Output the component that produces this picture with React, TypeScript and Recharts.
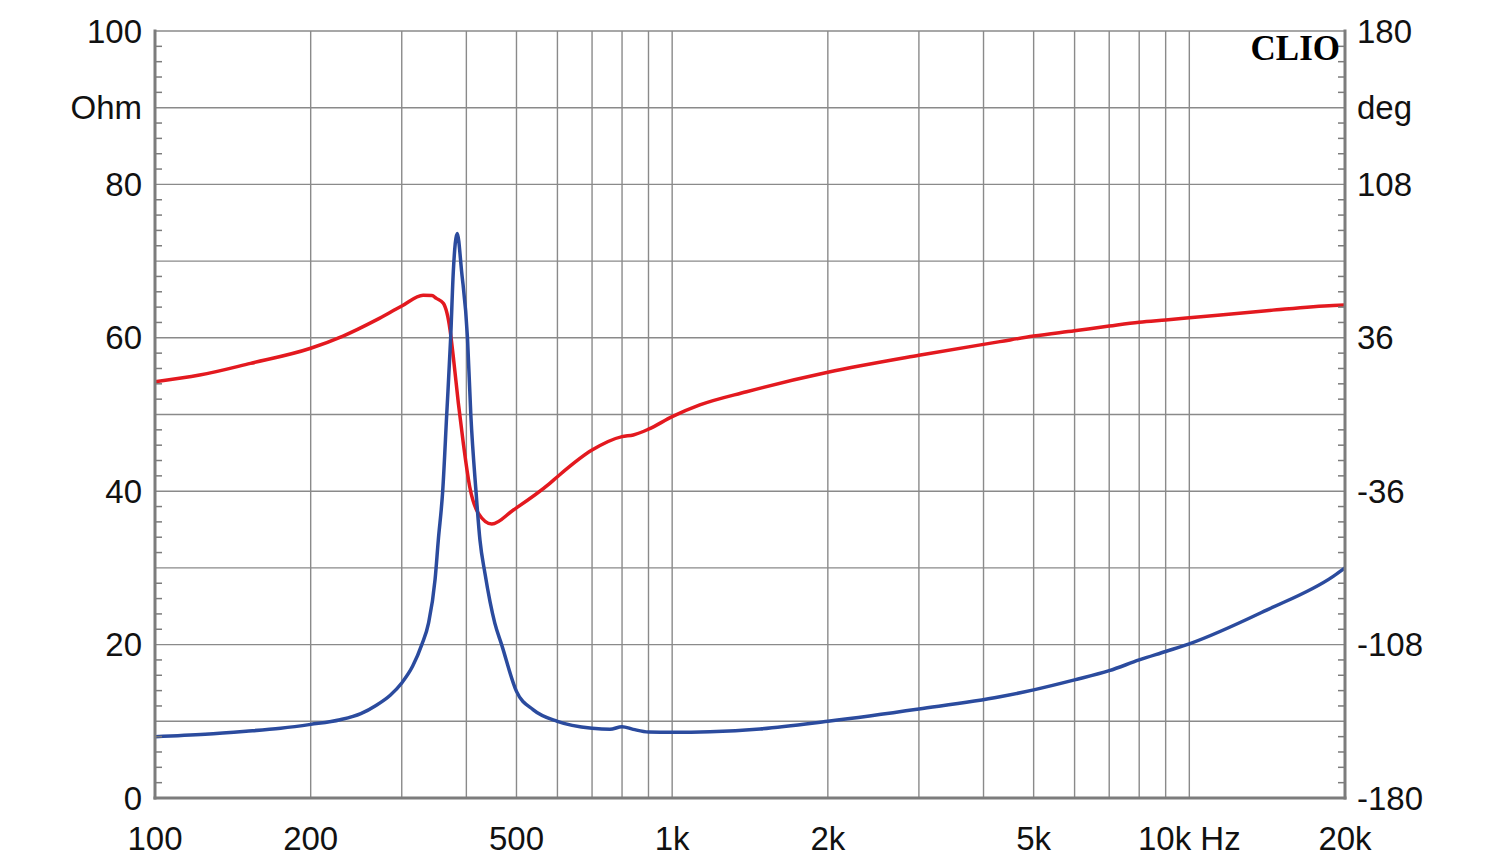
import React from "react";
import { LineChart, Line, XAxis, YAxis, CartesianGrid } from "recharts";

// impedance magnitude (left axis)
const impFreq = [
  100, 125, 150, 175, 200, 228, 250, 268, 285, 300, 315, 328, 338, 348, 353,
  360, 366.5, 373, 377.4, 384, 391.7, 402, 408, 417.5, 425, 434.5, 454, 468,
  500, 539, 600, 700, 758, 800, 841, 900, 1000, 1183, 1478, 2000, 3000, 4303,
  5000, 6000, 7000, 8000, 9000, 10000, 14108, 18977, 20000,
];
const impOhm = [
  8.0, 8.3, 8.7, 9.1, 9.6, 10.2, 11.0, 12.1, 13.4, 15.0, 17.2, 20.0, 22.8,
  28.5, 33.6, 40, 50, 60, 68.6, 73.6, 68.6, 60, 50, 40, 33.6, 29.3, 22.8, 20.0,
  13.9, 11.5, 10.0, 9.1, 8.95, 9.3, 8.95, 8.6, 8.56, 8.64, 9.0, 10.0, 11.6,
  13.2, 14.1, 15.4, 16.6, 18.0, 19.1, 20.1, 24.5, 28.9, 30.0,
];

// phase (right axis)
const phaseFreq = [
  100, 122, 153, 200, 231, 268, 300, 330, 343, 350, 361, 372, 377.4, 386,
  394.6, 406, 422, 448, 493, 580, 600, 700, 800, 841, 900, 1000, 1131, 1393,
  2000, 3000, 4303, 5000, 6000, 7000, 8000, 9000, 10000, 14108, 18977, 20000,
];
const phaseDeg = [
  15.4, 18.5, 24.0, 31.1, 36.8, 44.4, 50.9, 56.0, 55.8, 54.5, 52.2, 39.7, 27.1,
  5.3, -13.5, -33.9, -46.4, -51.4, -44.8, -32.3, -29.2, -16.7, -10.4, -9.6,
  -6.9, -1.0, 4.5, 10.7, 19.8, 27.8, 34.2, 36.8, 39.3, 41.5, 43.3, 44.4, 45.4,
  48.7, 51.2, 51.4,
];

const freqTicks = [
  100, 200, 300, 400, 500, 600, 700, 800, 900, 1000, 2000, 3000, 4000, 5000,
  6000, 7000, 8000, 9000, 10000, 20000,
];
const freqLabels: Record<number, string> = {
  100: "100",
  200: "200",
  500: "500",
  1000: "1k",
  2000: "2k",
  5000: "5k",
  10000: "10k Hz",
  20000: "20k",
};

const ohmGrid = [0, 10, 20, 30, 40, 50, 60, 70, 80, 90, 100];
const ohmMinor = [
  0, 2, 4, 6, 8, 10, 12, 14, 16, 18, 20, 22, 24, 26, 28, 30, 32, 34, 36, 38,
  40, 42, 44, 46, 48, 50, 52, 54, 56, 58, 60, 62, 64, 66, 68, 70, 72, 74, 76,
  78, 80, 82, 84, 86, 88, 90, 92, 94, 96, 98, 100,
];
const ohmLabels: Record<number, string> = {
  0: "0",
  20: "20",
  40: "40",
  60: "60",
  80: "80",
  90: "Ohm",
  100: "100",
};

// same minor ticks expressed on the phase scale (10 ohm = 36 deg)
const degMinor = ohmMinor.map((v) => -180 + v * 3.6);
const degLabels: Record<number, string> = {
  180: "180",
  144: "deg",
  108: "108",
  36: "36",
  [-36]: "-36",
  [-108]: "-108",
  [-180]: "-180",
};

const impData = impFreq.map((f, i) => ({ f, ohm: impOhm[i] }));
const phaseData = phaseFreq.map((f, i) => ({ f, deg: phaseDeg[i] }));

const FONT = "'Liberation Sans', Arial, sans-serif";
const BORDER = { stroke: "#7c7c7c", strokeWidth: 3, strokeLinecap: "square" as const };

const isGrid = (v: number, step: number) =>
  Math.abs(v / step - Math.round(v / step)) < 0.001;

const OhmTick = (props: any) => {
  const { x, y, payload } = props;
  const v = Math.round(payload.value);
  const label = ohmLabels[v];
  if (label !== undefined) {
    return (
      <text x={x - 13} y={y} textAnchor="end" dominantBaseline="central"
        fontFamily={FONT} fontSize={33} fill="#111">
        {label}
      </text>
    );
  }
  if (v % 10 !== 0) {
    return <line x1={x} x2={x + 7} y1={y} y2={y} stroke="#7c7c7c" strokeWidth={1.5} />;
  }
  return <g />;
};

const DegTick = (props: any) => {
  const { x, y, payload } = props;
  const raw = payload.value as number;
  const v = Math.round(raw);
  if (Math.abs(raw - v) < 0.01 && degLabels[v] !== undefined) {
    return (
      <text x={x + 12} y={y} textAnchor="start" dominantBaseline="central"
        fontFamily={FONT} fontSize={33} fill="#111">
        {degLabels[v]}
      </text>
    );
  }
  if (!isGrid(raw + 180, 36)) {
    return <line x1={x} x2={x - 7} y1={y} y2={y} stroke="#7c7c7c" strokeWidth={1.5} />;
  }
  return <g />;
};

const FreqTick = (props: any) => {
  const { x, y, payload } = props;
  const label = freqLabels[payload.value];
  if (!label) return <g />;
  return (
    <text x={x} y={y + 40} textAnchor="middle" dominantBaseline="central"
      fontFamily={FONT} fontSize={33} fill="#111">
      {label}
    </text>
  );
};

const App = () => {
  return (
    <div style={{ position: "relative", width: 1484, height: 856, marginBottom: -8 }}>
      <LineChart width={1484} height={856} margin={{ top: 23, right: 0, bottom: 0, left: 0 }}>
        <CartesianGrid
          yAxisId="ohm"
          horizontalValues={ohmGrid}
          stroke="#8a8a8a"
          strokeWidth={1.4}
        />
        <XAxis
          dataKey="f"
          type="number"
          scale="log"
          domain={[100, 20000]}
          ticks={freqTicks}
          interval={0}
          allowDataOverflow
          height={66}
          tickSize={0}
          tickMargin={0}
          tickLine={false}
          axisLine={BORDER}
          tick={<FreqTick />}
        />
        <XAxis
          xAxisId="top"
          orientation="top"
          dataKey="f"
          type="number"
          scale="log"
          domain={[100, 20000]}
          height={0}
          tick={false}
          tickLine={false}
          axisLine={BORDER}
        />
        <YAxis
          yAxisId="ohm"
          orientation="left"
          type="number"
          domain={[0, 100]}
          ticks={ohmMinor}
          interval={0}
          width={147}
          tickSize={0}
          tickMargin={0}
          tickLine={false}
          axisLine={BORDER}
          tick={<OhmTick />}
        />
        <YAxis
          yAxisId="deg"
          orientation="right"
          type="number"
          domain={[-180, 180]}
          ticks={degMinor}
          interval={0}
          width={147}
          tickSize={0}
          tickMargin={0}
          tickLine={false}
          axisLine={BORDER}
          tick={<DegTick />}
        />
        <Line
          yAxisId="deg"
          data={phaseData}
          dataKey="deg"
          type="monotone"
          stroke="#e3191f"
          strokeWidth={3.5}
          dot={false}
          isAnimationActive={false}
        />
        <Line
          yAxisId="ohm"
          data={impData}
          dataKey="ohm"
          type="monotone"
          stroke="#2b4b9e"
          strokeWidth={3.5}
          dot={false}
          isAnimationActive={false}
        />
      </LineChart>
      <div
        style={{
          position: "absolute",
          top: 23,
          right: 152,
          fontFamily: "'Liberation Serif', 'Times New Roman', serif",
          fontWeight: "bold",
          fontSize: 35,
          lineHeight: "35px",
          color: "#000",
        }}
      >
        CLIO
      </div>
    </div>
  );
};

export default App;
